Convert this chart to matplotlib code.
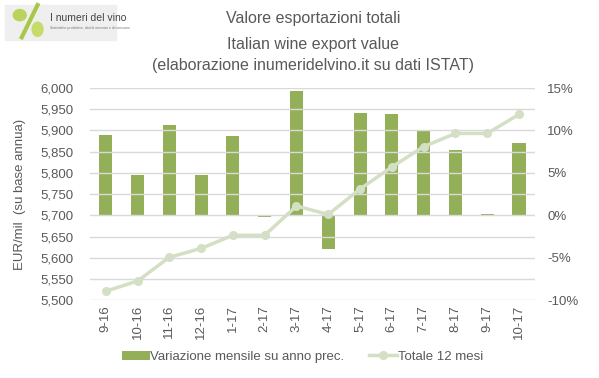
import matplotlib
matplotlib.use("Agg")
import matplotlib.pyplot as plt
from matplotlib.patches import Ellipse, Rectangle
from matplotlib.ticker import FuncFormatter, MultipleLocator

plt.rcParams['font.family'] = ['Liberation Sans', 'DejaVu Sans']

months = ["9-16", "10-16", "11-16", "12-16", "1-17", "2-17", "3-17", "4-17",
          "5-17", "6-17", "7-17", "8-17", "9-17", "10-17"]
monthly_change = [9.5, 4.8, 10.6, 4.7, 9.3, -0.2, 14.6, -4.0, 12.1, 12.0, 9.9, 7.7, 0.1, 8.5]
total_12m = [5521, 5545, 5601, 5622, 5653, 5653, 5722, 5702, 5762, 5814, 5862, 5893, 5893, 5938]

bar_color = '#93B058'
line_color = '#D3E0C3'
text_color = '#595959'
grid_color = '#D9D9D9'

fig = plt.figure(figsize=(5.99, 3.78), dpi=100)
ax = fig.add_axes([0.150, 0.206, 0.743, 0.561])
ax2 = ax.twinx()

x = list(range(len(months)))
ax2.bar(x, monthly_change, width=0.41, color=bar_color, label='Variazione mensile su anno prec.')
ax.plot(x, total_12m, color=line_color, lw=2.5, marker='o', ms=5.5, label='Totale 12 mesi')

ax.set_zorder(ax2.get_zorder() + 1)
ax.patch.set_visible(False)

ax.set_ylim(5500, 6000)
ax2.set_ylim(-10, 15)
ax.set_xlim(-0.5, len(months) - 0.5)
ax.yaxis.set_major_locator(MultipleLocator(50))
ax2.yaxis.set_major_locator(MultipleLocator(5))
ax.yaxis.set_major_formatter(FuncFormatter(lambda v, p: f"{int(v):,}"))
ax2.yaxis.set_major_formatter(FuncFormatter(lambda v, p: f"{int(v)}%"))
ax.grid(axis='y', color=grid_color, lw=1)
ax.set_axisbelow(False)

ax.set_xticks(x)
ax.set_xticklabels(months, rotation=90, fontsize=9.5, color=text_color)
for a in (ax, ax2):
    for s in a.spines.values():
        s.set_visible(False)
    a.tick_params(length=0, colors=text_color, labelsize=9.5)
ax.tick_params(axis='y', pad=12)
ax2.tick_params(axis='y', pad=9)
ax.set_ylabel('EUR/mil  (su base annua)', color=text_color, fontsize=9.5, labelpad=10)

fig.text(0.523, 0.952, 'Valore esportazioni totali', ha='center', va='center', fontsize=11.5, color=text_color)
fig.text(0.523, 0.882, 'Italian wine export value', ha='center', va='center', fontsize=11.5, color=text_color)
fig.text(0.523, 0.828, '(elaborazione inumeridelvino.it su dati ISTAT)', ha='center', va='center', fontsize=11.5, color=text_color)

# logo
logo = fig.add_axes([0.0, 0.88, 0.33, 0.12])
logo.set_xlim(0, 200)
logo.set_ylim(0, 45)
logo.axis('off')
logo.add_patch(Rectangle((5, 5), 112, 35, color='#EFEFEF'))
logo.add_patch(Ellipse((20, 30), 13, 11, color='#B8D45A'))
logo.add_patch(Ellipse((38, 16), 11, 14, color='#C5DC6A'))
logo.plot([22, 38], [8, 40], color='#A9C84A', lw=3)
logo.text(51, 27, 'I numeri del vino', fontsize=7.5, color='#444444', va='center')
logo.text(51, 17, 'Statistiche produttive, dati di mercato e di consumo', fontsize=2.5, color='#777777', va='center')

h1, l1 = ax2.get_legend_handles_labels()
h2, l2 = ax.get_legend_handles_labels()
fig.legend(h1 + h2, l1 + l2, loc='center', bbox_to_anchor=(0.505, 0.056), ncol=2, frameon=False,
           fontsize=9.5, labelcolor=text_color, handlelength=2.1, handletextpad=0.05, columnspacing=1.9)

fig.savefig('out.png', dpi=100)
